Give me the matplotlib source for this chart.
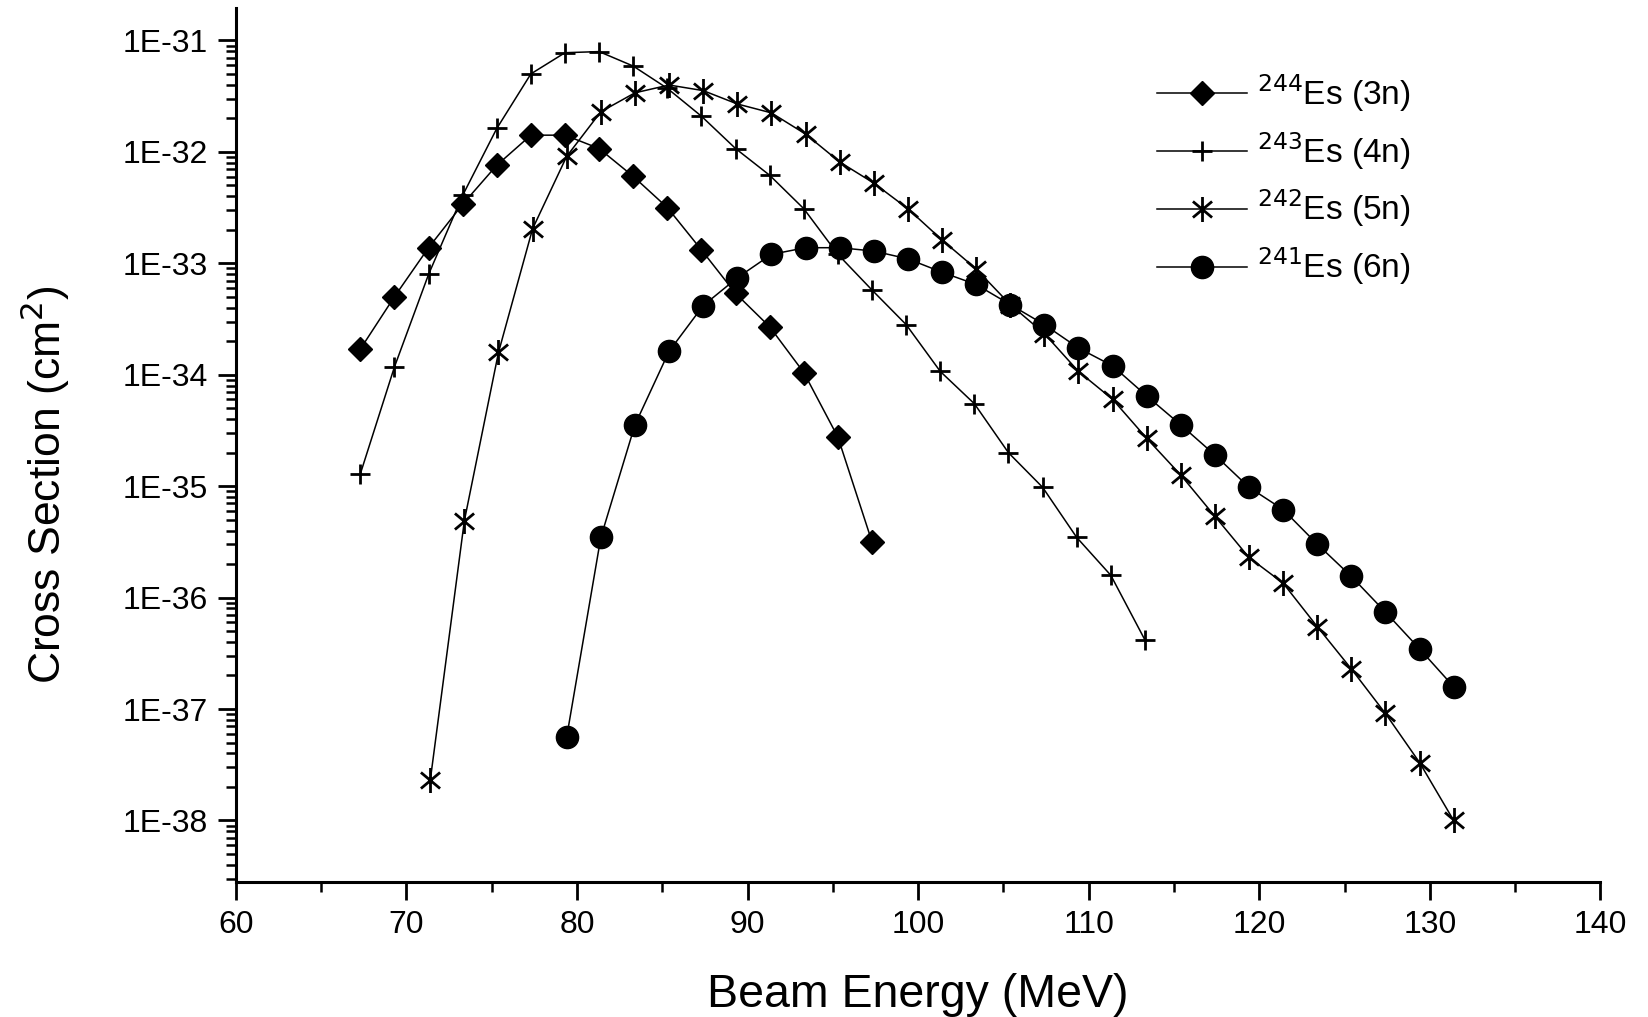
import numpy as np
import matplotlib
matplotlib.use("Agg")
import matplotlib.pyplot as plt
from matplotlib.path import Path
from matplotlib.ticker import FixedLocator, FuncFormatter, MultipleLocator, LogLocator, NullFormatter

plt.rcParams['font.family'] = ['Liberation Sans', 'DejaVu Sans']

# beam energies (MeV) and log10 of cross sections (cm^2)
e_3n = [67.3, 69.3, 71.3, 73.3, 75.3, 77.3, 79.3, 81.3, 83.3, 85.3, 87.3, 89.3,
        91.3, 93.3, 95.3, 97.3]
lg_3n = [-33.77, -33.30, -32.86, -32.47, -32.12, -31.85, -31.85, -31.97, -32.22,
         -32.50, -32.88, -33.27, -33.57, -33.98, -34.56, -35.50]

e_4n = [67.3, 69.3, 71.3, 73.3, 75.3, 77.3, 79.3, 81.3, 83.3, 85.3, 87.3, 89.3,
        91.3, 93.3, 95.3, 97.3, 99.3, 101.3, 103.3, 105.3, 107.3, 109.3, 111.3, 113.3]
lg_4n = [-34.89, -33.93, -33.10, -32.39, -31.79, -31.30, -31.11, -31.10, -31.23,
         -31.43, -31.68, -31.97, -32.21, -32.51, -32.92, -33.24, -33.55, -33.97,
         -34.26, -34.70, -35.01, -35.46, -35.80, -36.38]

e_5n = [71.4, 73.4, 75.4, 77.4, 79.4, 81.4, 83.4, 85.4, 87.4, 89.4, 91.4, 93.4,
        95.4, 97.4, 99.4, 101.4, 103.4, 105.4, 107.4, 109.4, 111.4, 113.4, 115.4,
        117.4, 119.4, 121.4, 123.4, 125.4, 127.4, 129.4, 131.4]
lg_5n = [-37.64, -35.31, -33.80, -32.69, -32.04, -31.64, -31.47, -31.40, -31.45,
         -31.57, -31.65, -31.84, -32.09, -32.28, -32.51, -32.79, -33.05, -33.37,
         -33.63, -33.97, -34.22, -34.57, -34.90, -35.27, -35.64, -35.87, -36.26,
         -36.64, -37.04, -37.48, -38.00]

e_6n = [79.4, 81.4, 83.4, 85.4, 87.4, 89.4, 91.4, 93.4, 95.4, 97.4, 99.4, 101.4,
        103.4, 105.4, 107.4, 109.4, 111.4, 113.4, 115.4, 117.4, 119.4, 121.4, 123.4,
        125.4, 127.4, 129.4, 131.4]
lg_6n = [-37.25, -35.46, -34.45, -33.79, -33.38, -33.13, -32.92, -32.86, -32.86,
         -32.89, -32.96, -33.08, -33.19, -33.37, -33.55, -33.76, -33.92, -34.19,
         -34.45, -34.72, -35.01, -35.21, -35.52, -35.81, -36.13, -36.46, -36.80]

labels = [r'$^{244}$Es (3n)', r'$^{243}$Es (4n)', r'$^{242}$Es (5n)', r'$^{241}$Es (6n)']

# asterisk marker: vertical bar plus an X
ca = np.cos(np.radians(40))
sa = np.sin(np.radians(40))
ast = Path([(0, -1), (0, 1), (-ca, -sa), (ca, sa), (-ca, sa), (ca, -sa)],
           [Path.MOVETO, Path.LINETO, Path.MOVETO, Path.LINETO, Path.MOVETO, Path.LINETO])

fig = plt.figure(figsize=(16.49, 10.17), dpi=100)
ax = fig.add_axes([0.143, 0.133, 0.8275, 0.859])

kw = dict(color='black', lw=1.1, mec='black', mfc='black')
ax.plot(e_3n, 10.0 ** np.array(lg_3n), marker='D', ms=12.5, label=labels[0], **kw)
ax.plot(e_4n, 10.0 ** np.array(lg_4n), marker='+', ms=15, mew=2.0, label=labels[1], **kw)
ax.plot(e_5n, 10.0 ** np.array(lg_5n), marker=ast, ms=18, mew=2.0, label=labels[2], **kw)
ax.plot(e_6n, 10.0 ** np.array(lg_6n), marker='o', ms=16, label=labels[3], **kw)

ax.set_yscale('log')
ax.set_xlim(60, 140)
ax.set_ylim(10 ** -38.55, 10 ** -30.71)

ax.xaxis.set_major_locator(MultipleLocator(10))
ax.xaxis.set_minor_locator(MultipleLocator(5))
ax.yaxis.set_major_locator(FixedLocator([10.0 ** k for k in range(-38, -30)]))
ax.yaxis.set_major_formatter(FuncFormatter(lambda v, p: '1E%d' % round(np.log10(v))))
ax.yaxis.set_minor_locator(LogLocator(base=10, subs=np.arange(2, 10), numticks=20))
ax.yaxis.set_minor_formatter(NullFormatter())

for s in ['top', 'right']:
    ax.spines[s].set_visible(False)
for s in ['left', 'bottom']:
    ax.spines[s].set_linewidth(2.2)

ax.tick_params(axis='both', which='major', length=13, width=2.0, direction='out',
               labelsize=23, pad=7)
ax.tick_params(axis='both', which='minor', length=7, width=1.8, direction='out')
ax.tick_params(axis='x', which='major', pad=7)

ax.set_xlabel('Beam Energy (MeV)', fontsize=33.5)
ax.xaxis.set_label_coords(0.5, -0.105)
ax.set_ylabel('Cross Section (cm$^2$)', fontsize=32)
ax.yaxis.set_label_coords(-0.12, 0.455)

leg = ax.legend(loc='upper left', bbox_to_anchor=(0.663, 0.946), frameon=False,
                fontsize=24, handlelength=2.7, handletextpad=0.3, labelspacing=0.48,
                borderpad=0)

fig.savefig('out.png', dpi=100)
